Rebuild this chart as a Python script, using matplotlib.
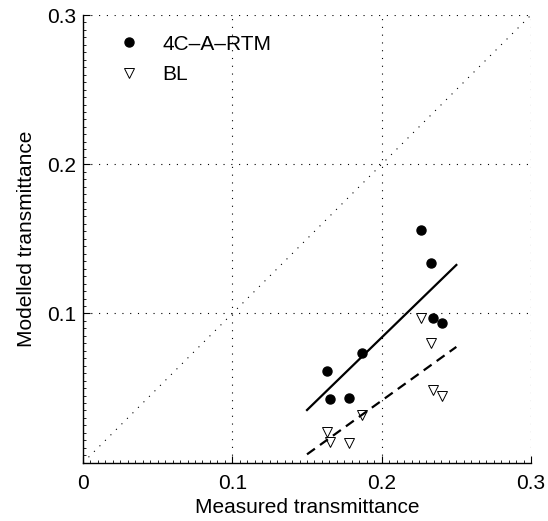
import numpy as np
import matplotlib
matplotlib.use("Agg")
import matplotlib.pyplot as plt
from matplotlib.ticker import MultipleLocator

plt.rcParams['font.family'] = ['Liberation Sans', 'DejaVu Sans']
plt.rcParams['lines.scale_dashes'] = False

# 4C-A-RTM results
rtm_meas = [0.2264, 0.2328, 0.2342, 0.2402, 0.1866, 0.1632, 0.1654, 0.1782]
rtm_model = [0.156, 0.134, 0.0972, 0.0934, 0.0737, 0.0617, 0.0429, 0.0436]

# BL results
bl_meas = [0.2264, 0.2331, 0.2342, 0.2405, 0.1866, 0.1632, 0.1654, 0.1782]
bl_model = [0.097, 0.080, 0.0487, 0.0447, 0.032, 0.0208, 0.0141, 0.013]

# fitted lines (end points)
fit_x = [0.15, 0.25]
fit_rtm = [0.0353, 0.1325]
fit_bl = [0.0056, 0.0776]

fig = plt.figure(figsize=(5.48, 5.21), dpi=100)
ax = fig.add_axes([0.1515, 0.1119, 0.8175, 0.8593])

# 1:1 line
ax.plot([0, 0.3], [0, 0.3], color='k', lw=0.8, linestyle=(0, (0.8, 4.8)))

ax.plot(rtm_meas, rtm_model, 'o', color='k', ms=6.5, label='4C\u2013A\u2013RTM')
ax.plot(bl_meas, bl_model, 'v', mfc='white', mec='k', mew=0.7, ms=7.5, label='BL')
ax.plot(fit_x, fit_rtm, '-', color='k', lw=1.6)
ax.plot(fit_x, fit_bl, color='k', lw=1.6, dashes=(7, 4.5))

ax.set_xlim(0, 0.3)
ax.set_ylim(0, 0.3)
ax.set_xticks([0, 0.1, 0.2, 0.3])
ax.set_yticks([0.1, 0.2, 0.3])
ax.set_xticklabels(['0', '0.1', '0.2', '0.3'])
ax.set_yticklabels(['0.1', '0.2', '0.3'])
ax.xaxis.set_minor_locator(MultipleLocator(0.005))
ax.yaxis.set_minor_locator(MultipleLocator(0.005))
ax.tick_params(which='major', direction='in', length=5, width=0.8, labelsize=15)
ax.tick_params(axis='x', which='major', pad=8)
ax.tick_params(axis='y', which='major', pad=5)
ax.tick_params(which='minor', direction='in', length=2.5, width=0.6)

for s in ['top', 'right']:
    ax.spines[s].set_visible(False)
for s in ['left', 'bottom']:
    ax.spines[s].set_linewidth(1.0)

ax.grid(True, which='major', color='k', lw=0.8, linestyle=(0, (0.8, 4.8)))
ax.set_axisbelow(True)

ax.set_xlabel('Measured transmittance', fontsize=15, labelpad=4)
ax.set_ylabel('Modelled transmittance', fontsize=15, labelpad=8)

leg = ax.legend(loc='upper left', bbox_to_anchor=(0.066, 0.975), frameon=False,
                fontsize=15, handlelength=0.8, handletextpad=1.2,
                labelspacing=0.55, borderaxespad=0)

fig.savefig('out.png', dpi=100)
